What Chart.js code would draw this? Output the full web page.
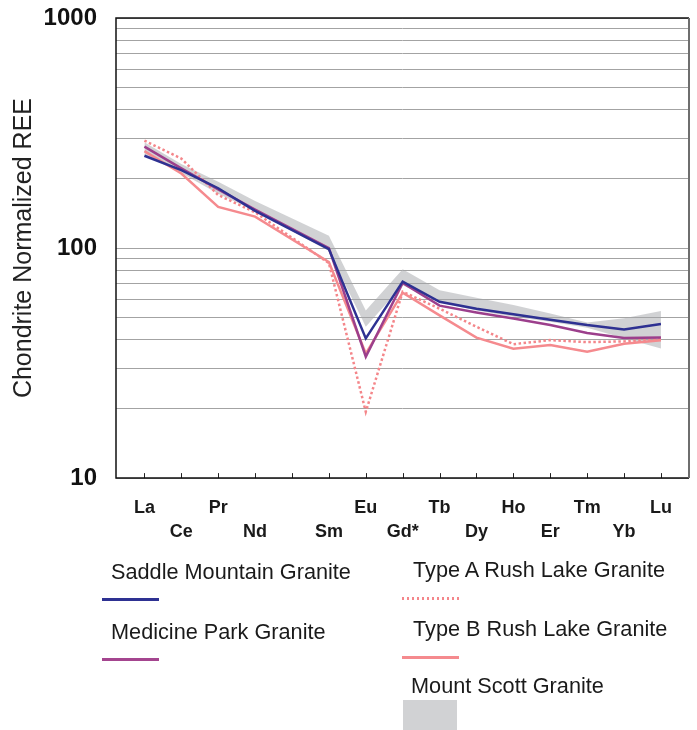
<!DOCTYPE html>
<html>
<head>
<meta charset="utf-8">
<script src="https://cdn.jsdelivr.net/npm/chart.js@4.4.1/dist/chart.umd.min.js"></script>
<style>
  body { margin: 0; background: #fff; font-family: "Liberation Sans", Arial, sans-serif; }
  #wrap { position: relative; width: 697px; height: 730px; }
  #ree { position: absolute; left: 0; top: 0; }
  .lg-text { position: absolute; font-size: 21.7px; line-height: 1; color: #1a1a1a; white-space: nowrap; }
  .lg-line { position: absolute; width: 57px; height: 3px; }
  .lg-box { position: absolute; width: 54px; height: 30px; background: #d1d2d4; }
</style>
</head>
<body>
<div id="wrap">
  <canvas id="ree" width="697" height="730"></canvas>
  <div class="lg-text" style="left:111px; top:561px;">Saddle Mountain Granite</div>
  <div class="lg-line" style="left:102px; top:598px; background:#2e3192;"></div>
  <div class="lg-text" style="left:111px; top:621px;">Medicine Park Granite</div>
  <div class="lg-line" style="left:102px; top:658px; background:#a4458f;"></div>
  <div class="lg-text" style="left:413px; top:559px;">Type A Rush Lake Granite</div>
  <div class="lg-line" style="left:402px; top:597px; background:repeating-linear-gradient(to right, #f4868a 0 2.5px, transparent 2.5px 5px);"></div>
  <div class="lg-text" style="left:413px; top:618px;">Type B Rush Lake Granite</div>
  <div class="lg-line" style="left:402px; top:656px; background:#f58a8e;"></div>
  <div class="lg-text" style="left:411px; top:675px;">Mount Scott Granite</div>
  <div class="lg-box" style="left:403px; top:700px;"></div>
</div>
<script>
// element positions 0..14 (Pm at 4 has no data)
const elements = ['La', 'Ce', 'Pr', 'Nd', '', 'Sm', 'Eu', 'Gd*', 'Tb', 'Dy', 'Ho', 'Er', 'Tm', 'Yb', 'Lu'];
const yLabels = [10, 100, 1000];
const yGrid = [10, 20, 30, 40, 50, 60, 70, 80, 90, 100, 200, 300, 400, 500, 600, 700, 800, 900, 1000];

const saddleMountain = [252, 218, 182, 145, null, 99, 40.5, 71.5, 58.4, 54.5, 51.6, 48.8, 46.3, 44.3, 46.8];
const medicinePark   = [276, 222, 180, 147, null, 100, 33.7, 70.5, 56.2, 52.5, 49.4, 46.3, 42.7, 40.7, 40.9];
const typeARushLake  = [293, 245, 170, 143, null, 86, 19.4, 64.6, 54.5, 45.5, 38.2, 39.8, 39.0, 39.3, 40.2];
const typeBRushLake  = [264, 211, 151, 137, null, 87, 34.8, 64, 51, 40.8, 36.5, 37.9, 35.4, 38.4, 39.7];
const mountScottHigh = [288, 232, 194, 160, null, 113, 53.5, 80.8, 65.6, 60.8, 56.5, 52, 47.5, 49.5, 53.2];
const mountScottLow  = [255, 212, 172, 145, null, 97, 45.5, 69, 58, 53.5, 50.3, 47.8, 45, 40.5, 36.6];

function toPoints(values) {
    return values.map((v, i) => ({ x: i, y: v })).filter(p => p.y !== null);
}

// inward tick marks on the element axis
const innerTicks = {
    id: 'innerTicks',
    afterDatasetsDraw(chart) {
        const { ctx, chartArea, scales } = chart;
        ctx.save();
        ctx.strokeStyle = '#222';
        ctx.lineWidth = 1;
        elements.forEach((_, i) => {
            const x = Math.round(scales.x.getPixelForValue(i)) + 0.5;
            ctx.beginPath();
            ctx.moveTo(x, chartArea.bottom - 5);
            ctx.lineTo(x, chartArea.bottom);
            ctx.stroke();
        });
        ctx.restore();
    }
};

// box around plot area
const plotFrame = {
    id: 'plotFrame',
    afterDatasetsDraw(chart) {
        const { ctx, chartArea: a } = chart;
        ctx.save();
        ctx.strokeStyle = '#111';
        ctx.lineWidth = 1.5;
        ctx.beginPath();
        ctx.moveTo(a.right, a.top);
        ctx.lineTo(a.left, a.top);
        ctx.lineTo(a.left, a.bottom);
        ctx.lineTo(a.right, a.bottom);
        ctx.stroke();
        ctx.strokeStyle = '#6e6e6e';
        ctx.lineWidth = 2;
        ctx.beginPath();
        ctx.moveTo(a.right, a.top);
        ctx.lineTo(a.right, a.bottom);
        ctx.stroke();
        ctx.restore();
    }
};

const ctx = document.getElementById('ree').getContext('2d');
new Chart(ctx, {
    type: 'line',
    data: {
        datasets: [
            { label: 'Saddle Mountain Granite', data: toPoints(saddleMountain), borderColor: '#2e3192', borderWidth: 2.5, pointRadius: 0, fill: false },
            { label: 'Medicine Park Granite', data: toPoints(medicinePark), borderColor: '#9c3f8c', borderWidth: 2.5, pointRadius: 0, fill: false },
            { label: 'Type B Rush Lake Granite', data: toPoints(typeBRushLake), borderColor: '#f58a8e', borderWidth: 2.5, pointRadius: 0, fill: false },
            { label: 'Type A Rush Lake Granite', data: toPoints(typeARushLake), borderColor: '#f4868a', borderWidth: 2.5, borderDash: [2.5, 2.5], pointRadius: 0, fill: false },
            { label: 'Mount Scott low', data: toPoints(mountScottLow), borderColor: 'rgba(0,0,0,0)', borderWidth: 0, pointRadius: 0, fill: false },
            { label: 'Mount Scott Granite', data: toPoints(mountScottHigh), borderColor: 'rgba(0,0,0,0)', borderWidth: 0, pointRadius: 0,
              fill: '-1', backgroundColor: 'rgba(163,165,169,0.5)' }
        ]
    },
    options: {
        responsive: false,
        animation: false,
        devicePixelRatio: 1,
        layout: { padding: { left: 9, top: 18, right: 8, bottom: 168 } },
        plugins: {
            legend: { display: false },
            tooltip: { enabled: false },
            filler: { drawTime: 'beforeDatasetsDraw' }
        },
        scales: {
            x: {
                type: 'linear',
                min: -0.77,
                max: 14.76,
                afterBuildTicks: axis => { axis.ticks = elements.map((_, i) => ({ value: i })); },
                grid: { drawOnChartArea: false, drawTicks: false },
                border: { display: false },
                ticks: {
                    autoSkip: false,
                    maxRotation: 0,
                    padding: 18,
                    color: '#1a1a1a',
                    font: { family: '"Liberation Sans", Arial, sans-serif', size: 18, weight: 'bold', lineHeight: 1.33 },
                    callback: value => {
                        const name = elements[value] || '';
                        return value % 2 === 0 ? [name, ''] : ['', name];
                    }
                }
            },
            y: {
                type: 'logarithmic',
                min: 10,
                max: 1000,
                afterBuildTicks: axis => { axis.ticks = yGrid.map(v => ({ value: v })); },
                afterFit: axis => {
                    axis.width = 107;
                    axis.paddingTop = 0;
                    axis.paddingBottom = 0;
                },
                grid: { color: '#a3a3a3', lineWidth: 1, drawTicks: false },
                border: { display: false },
                ticks: {
                    autoSkip: false,
                    padding: 19,
                    color: '#111',
                    font: { family: '"Liberation Sans", Arial, sans-serif', size: 24, weight: 'bold' },
                    callback: value => yLabels.includes(value) ? String(value) : ''
                },
                title: {
                    display: true,
                    text: 'Chondrite Normalized REE',
                    color: '#222',
                    padding: { top: 0, bottom: 5 },
                    font: { family: '"Liberation Sans", Arial, sans-serif', size: 25, weight: 'normal', lineHeight: 1.2 }
                }
            }
        }
    },
    plugins: [innerTicks, plotFrame]
});
</script>
</body>
</html>
